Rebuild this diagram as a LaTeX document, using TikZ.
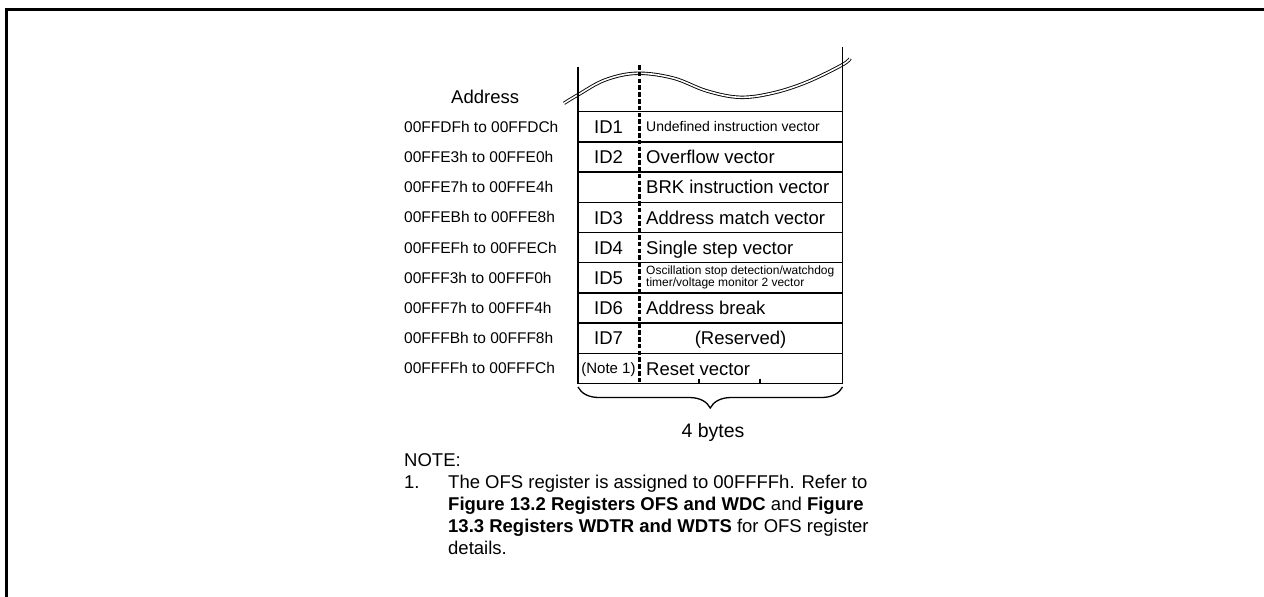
\documentclass[tikz,border=0pt]{standalone}
\usepackage{fontspec}
\setmainfont{Liberation Sans}
\usetikzlibrary{decorations.pathreplacing}
\begin{document}
\begin{tikzpicture}[x=1pt,y=-1pt,
  tbl/.style={line width=1.3pt},
  frameline/.style={line width=3pt},
  bigtxt/.style={inner sep=0pt, anchor=base west, yshift=-6.6pt, font=\fontsize{18.5}{22}\selectfont},
  bigc/.style={inner sep=0pt, anchor=base, yshift=-6.6pt, font=\fontsize{18.5}{22}\selectfont},
  addrtxt/.style={inner sep=0pt, anchor=base west, yshift=-5.5pt, font=\fontsize{15.5}{18}\selectfont},
  smalltxt/.style={inner sep=0pt, anchor=base west, yshift=-5.0pt, font=\fontsize{14}{16}\selectfont},
  notec/.style={inner sep=0pt, anchor=base, yshift=-5.4pt, font=\fontsize{15}{18}\selectfont},
  tinytxt/.style={inner sep=0pt, anchor=west, align=left, font=\fontsize{12}{11}\selectfont},
  sep/.style={line width=3pt, dash pattern=on 4.6pt off 2.2pt}
]
\useasboundingbox (0,0) rectangle (1264,597);
% outer frame
\draw[frameline] (6.5,597) -- (6.5,9.5) -- (1264,9.5);

% wave (cut mark)
\draw[line width=0.9pt, double distance=1.6pt] plot[smooth, tension=0.6] coordinates {(564,103.3) (577.7,95) (605,80) (636.7,73.3) (673,78) (707,91) (740,97.3) (773,93) (807,82) (842,65) (850,58.5)};

% named corner coordinates
\coordinate (tl) at (578,66.5);
\coordinate (tr) at (842.5,47);
\coordinate (bl) at (578,383.5);
\coordinate (br) at (842.5,383.5);
\coordinate (dt) at (639,65);
\coordinate (db) at (639,383.5);

% verticals
\draw[tbl] (tl) -- (bl);
\draw[tbl] (tr) -- (br);
% row lines
\foreach \i in {0,...,9}{
  \coordinate (rl\i) at (578,{111.7+30.2*\i});
  \coordinate (rr\i) at (842.5,{111.7+30.2*\i});
  \draw[tbl] (rl\i) -- (rr\i);
}
% byte ticks on last row
\coordinate (t1a) at (699,378.5); \coordinate (t1b) at (699,383.5);
\coordinate (t2a) at (760,378.5); \coordinate (t2b) at (760,383.5);
\draw[tbl] (t1a) -- (t1b);
\draw[tbl] (t2a) -- (t2b);
% dashed divider
\draw[sep] (dt) -- (db);

% header
\node[bigtxt] (hdr) at (451,97) {Address};

% address labels
\foreach \a [count=\i] in {00FFDFh to 00FFDCh,00FFE3h to 00FFE0h,00FFE7h to 00FFE4h,00FFEBh to 00FFE8h,00FFEFh to 00FFECh,00FFF3h to 00FFF0h,00FFF7h to 00FFF4h,00FFFBh to 00FFF8h,00FFFFh to 00FFFCh}{
  \node[addrtxt] (addr\i) at (404,{96.6+30.2*\i}) {\a};
}

% ID column
\foreach \t [count=\i] in {ID1,ID2,,ID3,ID4,ID5,ID6,ID7}{
  \node[bigc] (id\i) at (608.5,{96.6+30.2*\i}) {\t};
}
\node[notec] (id9) at (608.5,{96.6+30.2*9}) {(Note 1)};

% vector column
\node[smalltxt] (v1) at (646,{96.6+30.2*1}) {Undefined instruction vector};
\node[bigtxt] (v2) at (646,{96.6+30.2*2}) {Overflow vector};
\node[bigtxt] (v3) at (646,{96.6+30.2*3}) {BRK instruction vector};
\node[bigtxt] (v4) at (646,{96.6+30.2*4}) {Address match vector};
\node[bigtxt] (v5) at (646,{96.6+30.2*5}) {Single step vector};
\node[tinytxt] (v6) at (646,{96.6+30.2*6}) {Oscillation stop detection/watchdog\\timer/voltage monitor 2 vector};
\node[bigtxt] (v7) at (646,{96.6+30.2*7}) {Address break};
\node[bigc] (v8) at (740.5,{96.6+30.2*8}) {(Reserved)};
\node[bigtxt] (v9) at (646,{96.6+30.2*9}) {Reset vector};

% brace
\coordinate (bra) at (578,387);
\coordinate (brb) at (842.5,387);
\draw[tbl, decorate, decoration={brace, amplitude=21pt, mirror}] (bra) -- (brb);
\node[bigc, yshift=-0.4pt, font=\fontsize{19.5}{22}\selectfont] (bytes) at (713,430) {4 bytes};

% note
\node[bigtxt] (notehdr) at (404,460) {NOTE:};
\node[bigtxt] (notenum) at (404,481.7) {1.};
\node[bigtxt] (n1) at (448,481.7) {The OFS register is assigned to 00FFFFh. Refer to};
\node[bigtxt] (n2) at (448,503.9) {\bfseries Figure 13.2 Registers OFS and WDC\mdseries{} and \bfseries Figure};
\node[bigtxt] (n3) at (448,526.1) {\bfseries 13.3 Registers WDTR and WDTS\mdseries{} for OFS register};
\node[bigtxt] (n4) at (448,548.3) {details.};
\end{tikzpicture}
\end{document}
